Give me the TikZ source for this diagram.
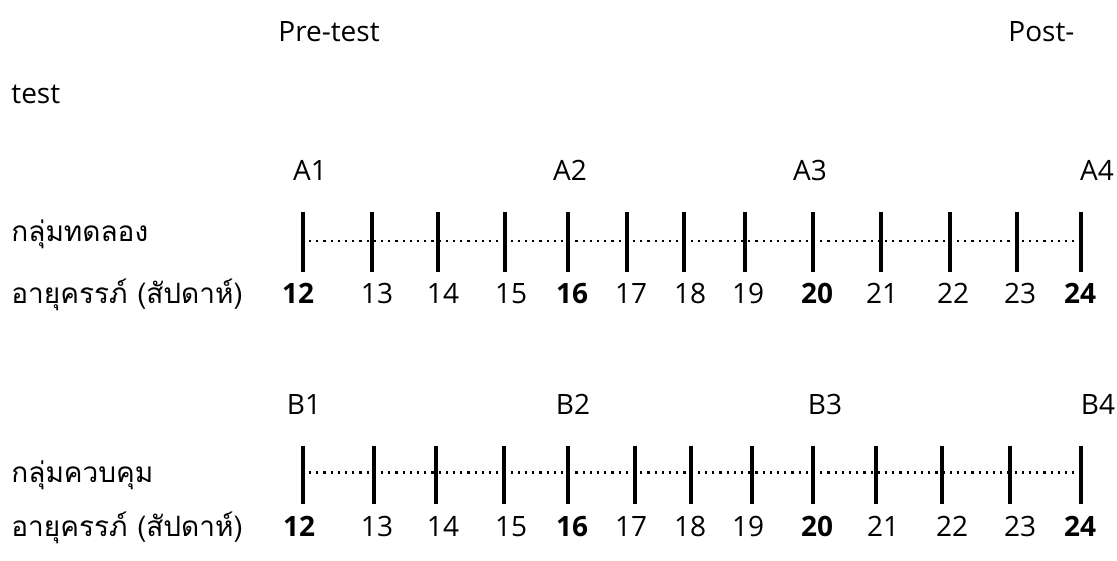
\documentclass[tikz,border=0pt]{standalone}
\usepackage{fontspec}
\setmainfont{Open Sans}
\newfontfamily\thaifont[Script=Thai]{Loma}
\usepackage{tikz}
\usetikzlibrary{positioning}

\begin{document}
\begin{tikzpicture}[x=0.5pt, y=-0.5pt,
    lbl/.style={font=\fontsize{14}{16}\selectfont, inner sep=0pt},
    wk/.style={lbl, anchor=base},
    wkbold/.style={wk, font=\fontsize{14}{16}\selectfont\bfseries},
    grp/.style={lbl, anchor=base west, font=\fontsize{14}{16}\selectfont\thaifont},
    wkmark/.style={line width=1.8pt},
    track/.style={line width=1.1pt, dash pattern=on 1.1pt off 2.5pt}
]
\useasboundingbox (0,0) rectangle (1117,561);

% Header
\node[lbl, anchor=base west] (pre) at (278,42) {Pre-test};
\node[lbl, anchor=base west] (post) at (1008,42) {Post-};
\node[lbl, anchor=base west] (posttail) at (11,104) {test};

% Experimental group
\node[grp] (expname) at (11,242) {กลุ่มทดลอง};
\node[grp] (expage) at (11,303) {อายุครรภ์ (สัปดาห์)};
\foreach \x/\l in {310/A1, 570/A2, 810/A3, 1097/A4}
    \node[wk] (\l) at (\x,181) {\l};
\foreach \x/\w in {303/12, 372/13, 438/14, 505/15, 568/16, 627/17, 684/18,
                   745/19, 813/20, 881/21, 950/22, 1017/23, 1081/24} {
    \coordinate (a\w) at (\x,241);
    \draw[wkmark] ([yshift=14.5pt]a\w) -- ([yshift=-15.5pt]a\w);
}
\draw[track] ([xshift=3pt]a12) -- (a24);
\foreach \x/\w in {377/13, 443/14, 511/15, 631/17, 690/18, 748/19, 882/21, 953/22, 1020/23}
    \node[wk] (ta\w) at (\x,303) {\w};
\foreach \x/\w in {298/12, 572/16, 817/20, 1080/24}
    \node[wkbold] (ta\w) at (\x,303) {\w};

% Control group
\node[grp] (ctlname) at (11,482) {กลุ่มควบคุม};
\node[grp] (ctlage) at (11,536) {อายุครรภ์ (สัปดาห์)};
\foreach \x/\l in {304/B1, 573/B2, 825/B3, 1098/B4}
    \node[wk] (\l) at (\x,414) {\l};
\foreach \x/\w in {303/12, 374/13, 436/14, 504/15, 568/16, 635/17, 691/18,
                   752/19, 813/20, 876/21, 942/22, 1010/23, 1081/24} {
    \coordinate (b\w) at (\x,472.5);
    \draw[wkmark] ([yshift=13.5pt]b\w) -- ([yshift=-15.5pt]b\w);
}
\draw[track] ([xshift=3pt]b12) -- (b24);
\foreach \x/\w in {377/13, 443/14, 511/15, 631/17, 690/18, 748/19, 883/21, 952/22, 1020/23}
    \node[wk] (tb\w) at (\x,536) {\w};
\foreach \x/\w in {299/12, 572/16, 817/20, 1080/24}
    \node[wkbold] (tb\w) at (\x,536) {\w};

\end{tikzpicture}
\end{document}
